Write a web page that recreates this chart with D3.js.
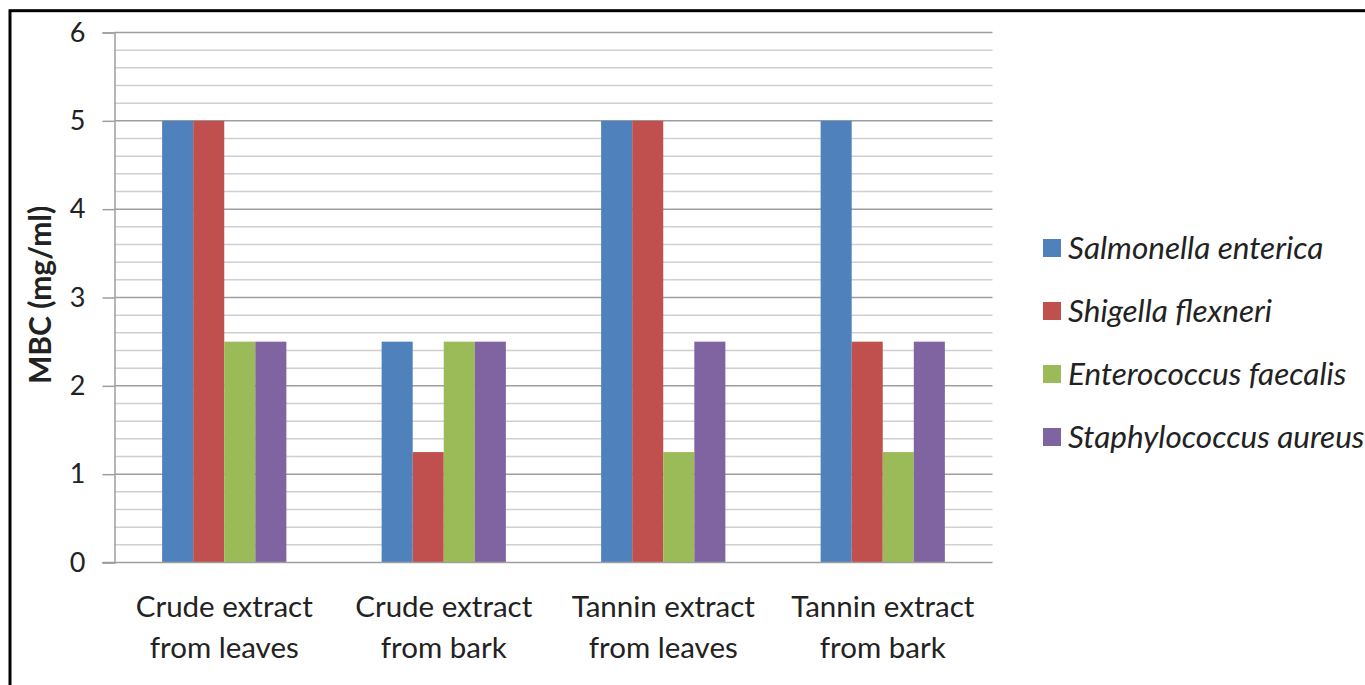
<!DOCTYPE html>
<html>
<head>
<meta charset="utf-8">
<script src="https://cdn.jsdelivr.net/npm/d3@7/dist/d3.min.js"></script>
<style>
  html, body { margin: 0; padding: 0; background: #fff; }
  svg { display: block; }
  text { font-family: Lato, "Open Sans", sans-serif; fill: #222; }
</style>
</head>
<body>
<svg id="chart" width="1365" height="685"></svg>
<script>
// Extract types (x categories), each label split over two lines
const categories = [
  ["Crude extract", "from leaves"],
  ["Crude extract", "from bark"],
  ["Tannin extract", "from leaves"],
  ["Tannin extract", "from bark"]
];
const seriesNames = ["Salmonella enterica", "Shigella flexneri", "Enterococcus faecalis", "Staphylococcus aureus"];
const seriesColors = ["#4F81BD", "#C0504D", "#9BBB59", "#8064A2"];

// MBC values (mg/ml) per series, in category order
const salmonella   = [5, 2.5, 5, 5];
const shigella     = [5, 1.25, 5, 2.5];
const enterococcus = [2.5, 2.5, 1.25, 1.25];
const staphylo     = [2.5, 2.5, 2.5, 2.5];
const seriesValues = [salmonella, shigella, enterococcus, staphylo];

const yTicks = [0, 1, 2, 3, 4, 5, 6];
const yTitle = "MBC (mg/ml)";

const svg = d3.select("#chart");
const plot = { left: 114.5, right: 992.5, top: 32.5, bottom: 562.5 };

// outer frame
svg.append("rect")
  .attr("x", 10).attr("y", 10.7)
  .attr("width", 1400).attr("height", 700)
  .attr("fill", "none").attr("stroke", "#000").attr("stroke-width", 3);

const y = d3.scaleLinear().domain([0, 6]).range([plot.bottom, plot.top]);
const catIdx = d3.range(categories.length);
const x0 = d3.scaleBand().domain(catIdx).range([plot.left, plot.right])
  .paddingInner(0.434).paddingOuter(0.217);
const x1 = d3.scaleBand().domain(d3.range(seriesNames.length)).range([0, x0.bandwidth()]);

// minor gridlines every 0.2
const minor = d3.range(0, 30).map(i => i * 0.2).filter(v => Math.abs(v - Math.round(v)) > 1e-6);
svg.append("g").selectAll("line").data(minor).join("line")
  .attr("x1", plot.left).attr("x2", plot.right)
  .attr("y1", d => y(d)).attr("y2", d => y(d))
  .attr("stroke", "#cfcfcf").attr("stroke-width", 1.5);

// major gridlines
svg.append("g").selectAll("line").data(yTicks.slice(1)).join("line")
  .attr("x1", plot.left).attr("x2", plot.right)
  .attr("y1", d => y(d)).attr("y2", d => y(d))
  .attr("stroke", "#9e9e9e").attr("stroke-width", 1.5);

// y axis with outward ticks
const yAxis = svg.append("g")
  .attr("transform", `translate(${plot.left},0)`)
  .call(d3.axisLeft(y).tickValues(yTicks).tickSize(12).tickPadding(17).tickFormat(d3.format("d")));
yAxis.select(".domain").attr("stroke", "#9e9e9e").attr("stroke-width", 1.5);
yAxis.selectAll(".tick line").attr("stroke", "#9e9e9e").attr("stroke-width", 1.5);
yAxis.selectAll(".tick text")
  .attr("font-size", 27).attr("font-family", "Lato, sans-serif").attr("fill", "#222");

// bars
const groups = svg.append("g").selectAll("g").data(catIdx).join("g")
  .attr("transform", c => `translate(${x0(c)},0)`);
groups.selectAll("rect")
  .data(c => seriesValues.map((vals, s) => ({ s, v: vals[c] })))
  .join("rect")
  .attr("x", d => x1(d.s))
  .attr("width", x1.bandwidth())
  .attr("y", d => y(d.v))
  .attr("height", d => y(0) - y(d.v))
  .attr("fill", d => seriesColors[d.s]);

// baseline
svg.append("line")
  .attr("x1", plot.left - 12).attr("x2", plot.right)
  .attr("y1", y(0)).attr("y2", y(0))
  .attr("stroke", "#9e9e9e").attr("stroke-width", 1.5);

// category labels
const catText = svg.append("g").selectAll("text").data(catIdx).join("text")
  .attr("text-anchor", "middle")
  .attr("font-size", 29.5);
catText.selectAll("tspan").data(c => categories[c].map((t, i) => ({ t, i, c }))).join("tspan")
  .attr("x", d => x0(d.c) + x0.bandwidth() / 2)
  .attr("y", d => 617 + d.i * 41)
  .text(d => d.t);

// y axis title
svg.append("text")
  .attr("transform", `translate(51,295) rotate(-90)`)
  .attr("text-anchor", "middle")
  .attr("font-size", 30).attr("font-weight", "bold")
  .attr("fill", "#111")
  .text(yTitle);

// legend
const legend = svg.append("g").selectAll("g").data(seriesNames).join("g")
  .attr("transform", (d, i) => `translate(1043,${248 + i * 63})`);
legend.append("rect")
  .attr("x", 0).attr("y", -9).attr("width", 18).attr("height", 18)
  .attr("fill", (d, i) => seriesColors[i]);
legend.append("text")
  .attr("x", 25).attr("y", 11)
  .attr("font-size", 31.5).attr("font-style", "italic")
  .text(d => d);
</script>
</body>
</html>
